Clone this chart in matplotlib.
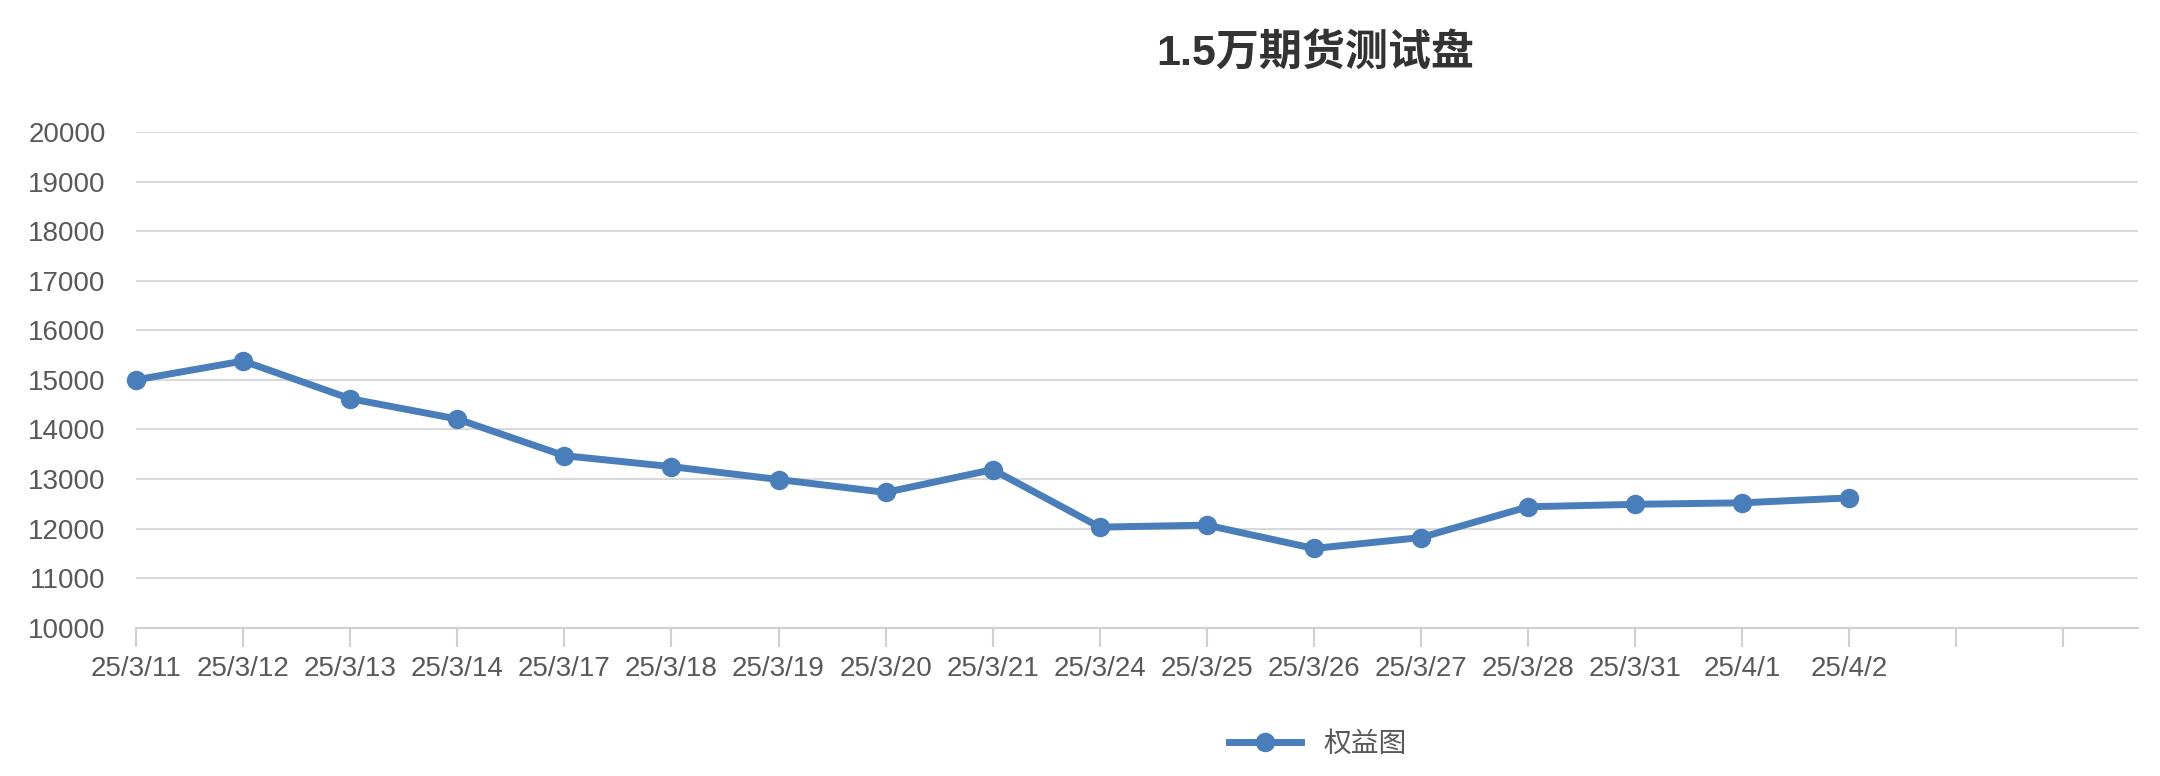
import matplotlib
matplotlib.use("Agg")
import matplotlib.pyplot as plt

plt.rcParams['font.family'] = ['Liberation Sans', 'Noto Sans CJK SC', 'DejaVu Sans']

dates = ["25/3/11","25/3/12","25/3/13","25/3/14","25/3/17","25/3/18","25/3/19","25/3/20",
         "25/3/21","25/3/24","25/3/25","25/3/26","25/3/27","25/3/28","25/3/31","25/4/1","25/4/2"]
equity = [15000,15380,14620,14210,13470,13250,12990,12730,13190,12030,12070,11600,11820,
          12440,12490,12520,12620]
title = "1.5万期货测试盘"
series_name = "权益图"

fig = plt.figure(figsize=(21.6, 7.76), dpi=100)
ax = fig.add_axes([0.063, 0.191, 0.927, 0.639])
color = "#4a7ebb"
x = list(range(len(dates)))
ax.plot(x, equity, color=color, lw=5, marker="o", ms=13, label=series_name, zorder=3,
        clip_on=False)
ax.set_ylim(10000, 20000)
ax.set_yticks(range(10000, 20001, 1000))
ax.set_xlim(0, 18.7)
ax.set_xticks(range(19))
ax.set_xticklabels(dates + ["", ""])
ax.grid(axis="y", color="#d9d9d9", lw=1.5)
for s in ["top", "right", "left"]:
    ax.spines[s].set_visible(False)
ax.spines["bottom"].set_color("#d0d0d0")
ax.spines["bottom"].set_linewidth(1.5)
ax.tick_params(axis="y", length=0, labelsize=20, colors="#595959", pad=22)
ax.tick_params(axis="x", length=14, width=1.5, color="#d0d0d0", labelsize=20,
               labelcolor="#595959", pad=6)
fig.text(0.609, 0.93, title, ha="center", va="center", fontsize=31, fontweight="bold",
         color="#333333")
fig.legend(loc="center", bbox_to_anchor=(0.61, 0.04), frameon=False, fontsize=20,
           labelcolor="#595959", handlelength=2.6)
fig.savefig("out.png", dpi=100)
